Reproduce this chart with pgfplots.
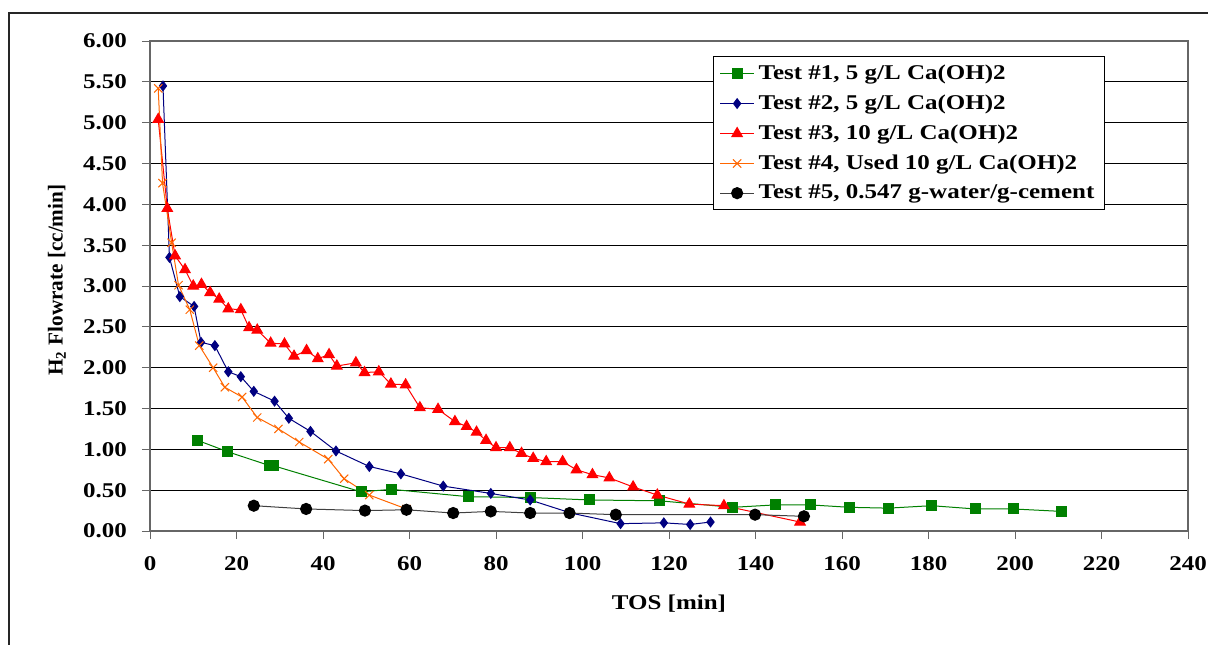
\documentclass[border=0pt]{standalone}
\usepackage{fontspec}
\setmainfont{Liberation Serif}[FakeStretch=1.19]
\newfontfamily\ylabfont{Liberation Serif}
\usepackage{pgfplots}
\pgfplotsset{compat=1.18}
\definecolor{tgreen}{HTML}{008000}
\definecolor{tnavy}{HTML}{000080}
\definecolor{tred}{HTML}{FF0000}
\definecolor{torange}{HTML}{FF6600}
\begin{document}
\begin{tikzpicture}
\useasboundingbox (0,0) rectangle (604pt,322pt);
\draw[line width=0.7pt, black!85] (4.5pt,-2pt) -- (4.5pt,315.5pt) -- (606pt,315.5pt);
\begin{axis}[
  at={(75pt,56.5pt)}, anchor=south west,
  scale only axis, width=519pt, height=245pt,
  xmin=0, xmax=240, ymin=0, ymax=6,
  xtick={0,20,...,240},
  ytick={0,0.5,...,6},
  xtick pos=left, ytick pos=left,
  tick align=outside, major tick length=4pt,
  tick style={black!60, line width=0.5pt},
  axis line style={black!60, line width=0.6pt},
  ymajorgrids, major grid style={black, line width=0.5pt},
  /pgf/number format/assume math mode=true,
  yticklabel style={/pgf/number format/fixed, /pgf/number format/fixed zerofill, /pgf/number format/precision=2},
  tick label style={font=\fontsize{10.5}{12}\selectfont\bfseries},
  xticklabel style={yshift=-5pt},
  yticklabel style={xshift=-4pt},
  xlabel={TOS [min]},
  ylabel={H\textsubscript{2} Flowrate [cc/min]},
  xlabel style={font=\fontsize{10.5}{12}\selectfont\bfseries, at={(axis description cs:0.5,-0.149)}, anchor=center},
  ylabel style={font=\ylabfont\fontsize{10.6}{12}\selectfont\bfseries, at={(axis description cs:-0.0896,0.512)}, anchor=center},
  legend style={at={(axis description cs:0.920,0.969)}, anchor=north east,
    draw=black, line width=0.6pt, fill=white,
    font=\fontsize{10.5}{12}\selectfont\bfseries,
    row sep=2.2pt, inner xsep=3pt, inner ysep=2pt},
  legend cell align=left,
  every axis plot/.append style={line width=0.5pt},
  clip=false,
]
\addplot[tgreen, mark=square*, mark size=2.5pt, mark options={fill=tgreen}] coordinates {
(11.0,1.11) (18.0,0.97) (27.7,0.80) (28.5,0.80) (48.8,0.48) (55.9,0.51)
(73.6,0.42) (87.9,0.41) (101.7,0.38) (117.8,0.37) (134.7,0.29) (144.7,0.32)
(152.6,0.32) (161.8,0.29) (170.7,0.28) (180.7,0.31) (190.8,0.27) (199.6,0.27) (210.8,0.24)
};
\addlegendentry{Test \#1, 5 g/L Ca(OH)2}
\addplot[tnavy, mark=diamond*, mark size=2.4pt, mark options={fill=tnavy}] coordinates {
(3.0,5.45) (4.5,3.35) (6.9,2.87) (10.2,2.75) (11.8,2.31) (15.0,2.27) (18.1,1.95)
(21.0,1.89) (24.0,1.71) (28.8,1.59) (32.1,1.38) (37.1,1.22) (43.0,0.98) (50.7,0.79)
(58.0,0.70) (67.8,0.55) (78.8,0.46) (87.9,0.38) (97.3,0.22) (108.8,0.09) (118.8,0.10)
(124.9,0.08) (129.6,0.11)
};
\addlegendentry{Test \#2, 5 g/L Ca(OH)2}
\addplot[tred, mark=triangle*, mark size=3pt, mark options={fill=tred}] coordinates {
(1.9,5.04) (4.0,3.95) (5.8,3.37) (8.1,3.20) (10.0,3.00) (11.9,3.02) (13.9,2.92)
(16.0,2.84) (18.1,2.72) (21.0,2.71) (22.9,2.49) (24.8,2.46) (27.9,2.30) (31.1,2.29)
(33.3,2.14) (36.2,2.21) (38.8,2.11) (41.4,2.16) (43.2,2.02) (47.6,2.06) (49.6,1.94)
(52.9,1.95) (55.7,1.80) (59.1,1.79) (62.4,1.51) (66.6,1.49) (70.5,1.34) (73.2,1.28)
(75.5,1.21) (77.7,1.11) (80.0,1.02) (83.2,1.02) (85.9,0.95) (88.6,0.89) (91.6,0.85)
(95.4,0.85) (98.6,0.75) (102.3,0.69) (106.2,0.65) (111.7,0.54) (117.3,0.44)
(124.7,0.33) (132.7,0.31) (150.3,0.11)
};
\addlegendentry{Test \#3, 10 g/L Ca(OH)2}
\addplot[torange, mark=x, mark size=2.9pt] coordinates {
(1.9,5.42) (2.9,4.26) (5.0,3.53) (6.6,3.01) (9.2,2.71) (11.4,2.27) (14.6,2.00)
(17.3,1.76) (21.3,1.64) (24.8,1.39) (29.7,1.25) (34.5,1.09) (41.2,0.88) (44.9,0.64)
(50.7,0.44) (59.3,0.27)
};
\addlegendentry{Test \#4, Used 10 g/L Ca(OH)2}
\addplot[black!75, mark=*, mark size=2.8pt, mark options={draw=black, fill=black}] coordinates {
(24.0,0.31) (36.1,0.27) (49.7,0.25) (59.3,0.26) (70.1,0.22) (78.8,0.24) (87.9,0.22)
(97.0,0.22) (107.7,0.20) (139.9,0.20) (151.2,0.18)
};
\addlegendentry{Test \#5, 0.547 g-water/g-cement}
\end{axis}
\end{tikzpicture}
\end{document}
